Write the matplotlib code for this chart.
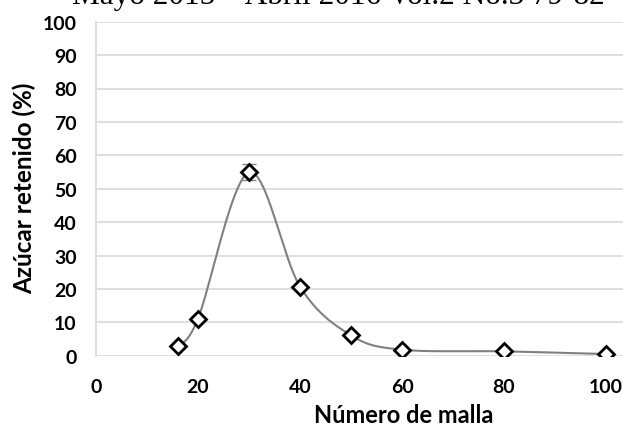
import matplotlib
matplotlib.use("Agg")
import matplotlib.pyplot as plt
import numpy as np

# datos
malla = [16, 20, 30, 40, 50, 60, 80, 100]
retenido = [2.9, 11.1, 54.9, 20.7, 6.1, 1.8, 1.3, 0.5]
error = [0, 0, 2.4, 0, 0, 0, 0, 0]
y_ticks = [0, 10, 20, 30, 40, 50, 60, 70, 80, 90, 100]
x_ticks = [0, 20, 40, 60, 80, 100]
encabezado = "Mayo 2015 – Abril 2016 Vol.2 No.3 79-82"


def suavizar(x, y, n=40):
    # linea suavizada tipo Excel (Catmull-Rom)
    p = np.column_stack([x, y]).astype(float)
    p = np.vstack([p[0], p, p[-1]])
    out = []
    for i in range(1, len(p) - 2):
        p0, p1, p2, p3 = p[i - 1], p[i], p[i + 1], p[i + 2]
        c1 = p1 + (p2 - p0) / 6
        c2 = p2 - (p3 - p1) / 6
        t = np.linspace(0, 1, n)[:, None]
        seg = ((1 - t) ** 3) * p1 + 3 * ((1 - t) ** 2) * t * c1 + 3 * (1 - t) * t ** 2 * c2 + t ** 3 * p2
        out.append(seg)
    out = np.vstack(out)
    return out[:, 0], out[:, 1]


plt.rcParams['font.family'] = ['Lato', 'DejaVu Sans']

fig = plt.figure(figsize=(6.23, 4.27), dpi=100)
ax = fig.add_axes([96 / 623, 70.3 / 427, 1 - 96 / 623, 334 / 427])

xs, ys = suavizar(malla, retenido)
ax.plot(xs, ys, color='#808080', lw=1.5, zorder=2)
ax.errorbar(malla, retenido, yerr=error, fmt='none', ecolor='#808080',
            elinewidth=1.2, capsize=5, zorder=2)
ax.plot(malla, retenido, 'D', ms=8.5, mfc='white', mec='black', mew=2, zorder=3)

ax.set_xlim(0, 527 / 5.1)
ax.set_ylim(0, 100)
ax.set_xticks(x_ticks)
ax.set_yticks(y_ticks)
ax.grid(axis='y', color='#d9d9d9', lw=1.2)
ax.set_axisbelow(True)
for s in ['top', 'right', 'bottom']:
    ax.spines[s].set_visible(False)
ax.spines['left'].set_color('#d9d9d9')
ax.spines['left'].set_linewidth(1.2)
ax.tick_params(length=0, labelsize=14)
ax.tick_params(axis='y', pad=14)
ax.tick_params(axis='x', pad=16)
for lab in ax.get_xticklabels() + ax.get_yticklabels():
    lab.set_fontweight('bold')

fig.text(404 / 623, 1 - 416 / 427, "Número de malla", ha='center', va='center',
         fontsize=17, fontweight='bold')
fig.text(24 / 623, 1 - 188.5 / 427, "Azúcar retenido (%)", ha='center', va='center',
         rotation=90, fontsize=17.5, fontweight='bold')
fig.text(338 / 623, 1 - 4 / 427, encabezado, ha='center', va='baseline',
         fontsize=22.5, family=['Liberation Serif', 'DejaVu Serif'])

fig.savefig("out.png", dpi=100)
